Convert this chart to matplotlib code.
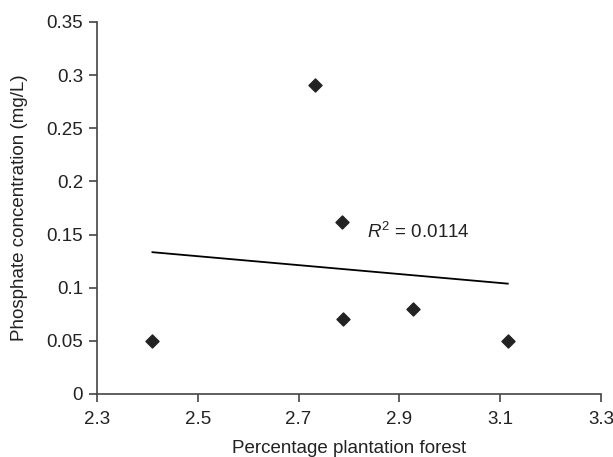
import numpy as np
import matplotlib
matplotlib.use('Agg')
import matplotlib.pyplot as plt

# plantation forest cover vs phosphate concentration
forest_pct = [2.41, 2.733, 2.786, 2.789, 2.926, 3.115]
phosphate = [0.050, 0.291, 0.162, 0.071, 0.080, 0.050]
x_ticks = [2.3, 2.5, 2.7, 2.9, 3.1, 3.3]
y_ticks = [0, 0.05, 0.1, 0.15, 0.2, 0.25, 0.3, 0.35]
y_tick_labels = ['0', '0.05', '0.1', '0.15', '0.2', '0.25', '0.3', '0.35']
r2_text = '$R^2$ = 0.0114'

plt.rcParams['font.family'] = ['Liberation Sans', 'DejaVu Sans']
plt.rcParams['mathtext.fontset'] = 'custom'
plt.rcParams['mathtext.it'] = 'Liberation Sans:italic'
plt.rcParams['mathtext.rm'] = 'Liberation Sans'

fs = 13.5
ink = '#222222'

fig = plt.figure(figsize=(6.13, 4.57), dpi=100)
ax = fig.add_axes([97 / 613, 1 - 394 / 457, 504 / 613, 372 / 457])

ax.scatter(forest_pct, phosphate, marker='D', s=44, color=ink, zorder=3)

# linear trendline over the data range
slope, intercept = np.polyfit(forest_pct, phosphate, 1)
xs = np.array([min(forest_pct), max(forest_pct)])
ax.plot(xs, slope * xs + intercept, color='black', lw=1.3)

ax.text(2.836, 0.152, r2_text, fontsize=fs, va='center', ha='left', color=ink)

ax.set_xlim(2.3, 3.3)
ax.set_ylim(0, 0.35)
ax.set_xticks(x_ticks)
ax.set_xticklabels([str(t) for t in x_ticks])
ax.set_yticks(y_ticks)
ax.set_yticklabels(y_tick_labels)

for side in ['top', 'right']:
    ax.spines[side].set_visible(False)
for side in ['left', 'bottom']:
    ax.spines[side].set_color('#444444')
    ax.spines[side].set_linewidth(1.2)

ax.tick_params(axis='both', direction='out', length=6, width=1.2, color='#444444',
               labelsize=fs, labelcolor=ink)
ax.tick_params(axis='x', pad=6)
ax.tick_params(axis='y', pad=4)

ax.set_xlabel('Percentage plantation forest', fontsize=fs, color=ink, labelpad=9)
ax.set_ylabel('Phosphate concentration (mg/L)', fontsize=fs, color=ink, labelpad=13)

plt.savefig('out.png', dpi=100)
